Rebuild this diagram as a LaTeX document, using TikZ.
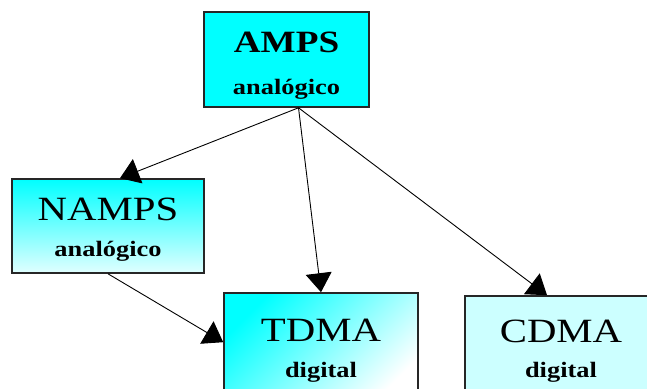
\documentclass[tikz,border=0pt]{standalone}
\usepackage{fontspec}
\setmainfont{Liberation Serif}
\usetikzlibrary{arrows.meta}
\definecolor{aqua}{RGB}{0,255,255}
\definecolor{paleaqua}{RGB}{204,255,255}
\newcommand\wide[1]{\scalebox{1.2}[1]{#1}}
\tikzset{
    box/.style={draw=black!85, line width=1.6pt, inner sep=0pt},
    big/.style={anchor=base, inner sep=0pt, font=\fontsize{34}{40}\selectfont},
    small/.style={anchor=base, inner sep=0pt, font=\fontsize{22}{26}\selectfont\bfseries},
    link/.style={line width=0.9pt, -{Triangle[length=19pt,width=26pt]}}
}
\begin{document}
\begin{tikzpicture}[x=1pt,y=1pt]
    \clip (0,0) rectangle (647,388);
    \node[box, fill=aqua, minimum width=165pt, minimum height=95pt] (amps) at (286.5,328.5) {};
    \node[box, top color=aqua, bottom color=aqua!12, minimum width=192pt, minimum height=94pt] (namps) at (108,162) {};
    \node[box, top color=aqua, bottom color=white, shading angle=45, minimum width=194pt, minimum height=110pt] (tdma) at (321,40) {};
    \node[box, fill=paleaqua, minimum width=192pt, minimum height=110pt] (cdma) at (561,37) {};
    \node[big, font=\fontsize{31}{36}\selectfont\bfseries] (ampsname) at ([yshift=-41pt]amps.north) {\wide{AMPS}};
    \node[small] (ampskind) at ([yshift=-83pt]amps.north) {\wide{analógico}};
    \node[big] (nampsname) at ([yshift=-42pt]namps.north) {\wide{NAMPS}};
    \node[small] (nampskind) at ([yshift=-78pt]namps.north) {\wide{analógico}};
    \node[big] (tdmaname) at ([yshift=-49pt]tdma.north) {\wide{TDMA}};
    \node[small] (tdmakind) at ([yshift=-85pt]tdma.north) {\wide{digital}};
    \node[big] (cdmaname) at ([yshift=-47pt]cdma.north) {\wide{CDMA}};
    \node[small] (cdmakind) at ([yshift=-82pt]cdma.north) {\wide{digital}};
    \coordinate (fork) at ([xshift=12pt]amps.south);
    \draw[link] (fork) -- ([xshift=12pt]namps.north);
    \draw[link] (fork) -- (tdma.north);
    \draw[link] (fork) -- ([xshift=-14pt]cdma.north);
    \draw[link] (namps.south) -- ([yshift=-50pt]tdma.north west);
\end{tikzpicture}
\end{document}
